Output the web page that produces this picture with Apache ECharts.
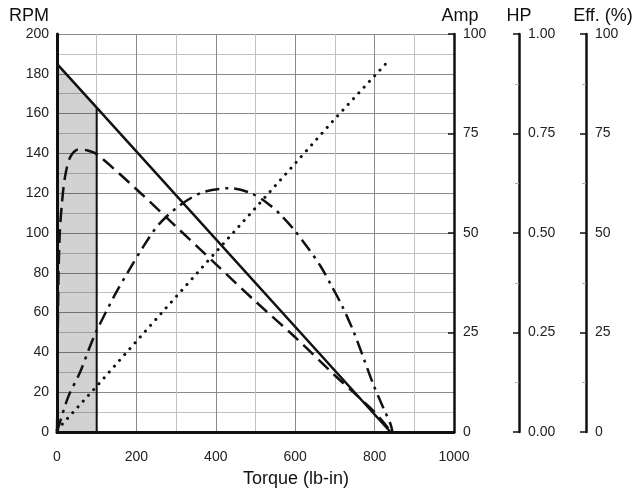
<!DOCTYPE html>
<html>
<head>
<meta charset="utf-8">
<script src="https://cdn.jsdelivr.net/npm/echarts@6/dist/echarts.min.js"></script>
<style>
html,body{margin:0;padding:0;background:#fff;}
#chart{width:637px;height:497px;}
</style>
</head>
<body>
<div id="chart"></div>
<script>
// ---- data ----
// Speed (RPM) vs torque (lb-in)
const speedTorque = [0, 100, 840];
const speedRPM    = [185, 163, 0];

// Shaded region (continuous duty zone) upper edge
const shadeTorque = [0, 100];
const shadeRPM    = [185, 163];

// Right border of shaded region
const borderTorque = [100, 100];
const borderRPM    = [0, 163];

// Current (Amp) - dotted
const ampTorque = [0, 100, 200, 300, 400, 500, 600, 700, 840];
const ampValues = [0.5, 11.5, 22.8, 34, 45.2, 56.3, 67.5, 78.7, 93.8];

// Power (HP) - dash-dot
const hpTorque = [0, 28, 58, 83, 100, 146, 179, 217, 255, 310, 368, 436, 489, 530, 564, 597, 635, 664, 690, 719, 748, 773, 798, 823, 840, 845];
const hpValues = [0, 0.0875, 0.15, 0.215, 0.255, 0.345, 0.4025, 0.465, 0.52, 0.57, 0.6025, 0.6125, 0.60, 0.575, 0.545, 0.5085, 0.4585, 0.4165, 0.37, 0.315, 0.25, 0.1835, 0.1165, 0.0585, 0.02, 0];

// Efficiency (%) - dashed
const effTorque = [0, 1, 2, 4, 7, 12, 20, 33, 53, 75, 100, 200, 300, 400, 500, 600, 700, 765, 800, 838];
const effValues = [0, 10, 25, 40, 50, 57, 64, 69, 71, 70.8, 69.8, 61, 51.6, 42.2, 32.8, 23.8, 14.2, 8.3, 5, 0.5];

// Axis tick settings
const xTicks   = {min: 0, max: 1000, interval: 200};
const rpmTicks = {min: 0, max: 200, interval: 20};
const ampTicks = {min: 0, max: 100, interval: 25};
const hpTicks  = {min: 0, max: 1, interval: 0.25};
const effTicks = {min: 0, max: 100, interval: 25};

const pairs = (xs, ys) => xs.map((x, i) => [x, ys[i]]);

const FONT = 'Liberation Sans, Arial, sans-serif';
const labelStyle = {color: '#222', fontSize: 14, fontFamily: FONT};
const nameStyleBase = {color: '#111', fontSize: 18, fontFamily: FONT};

const rightAxis = (ticks, offset, name, namePad, fmt, minor) => ({
  type: 'value', position: 'right', offset: offset,
  min: ticks.min, max: ticks.max, interval: ticks.interval,
  name: name, nameLocation: 'end', nameGap: 9,
  nameTextStyle: Object.assign({}, nameStyleBase, {align: 'center', padding: namePad}),
  axisLine: {show: true, lineStyle: {color: '#111', width: 2.5}},
  axisTick: {show: true, inside: true, length: 6, lineStyle: {color: '#111', width: 1.5}},
  minorTick: {show: minor, splitNumber: 2, length: 4, lineStyle: {color: '#aaa', width: 1}},
  axisLabel: Object.assign({}, labelStyle, {margin: 9, formatter: fmt}),
  splitLine: {show: false}
});

const chart = echarts.init(document.getElementById('chart'), null, {renderer: 'canvas'});
chart.setOption({
  animation: false,
  backgroundColor: '#fff',
  grid: {left: 57, right: 183, top: 34, bottom: 65, containLabel: false, outerBoundsMode: 'none'},
  xAxis: {
    type: 'value', min: xTicks.min, max: xTicks.max, interval: xTicks.interval,
    name: 'Torque (lb-in)', nameLocation: 'middle', nameGap: 38,
    nameTextStyle: Object.assign({}, nameStyleBase, {padding: [0, 0, 0, 81]}),
    axisLine: {show: true, lineStyle: {color: '#111', width: 3}},
    axisTick: {show: false},
    axisLabel: Object.assign({}, labelStyle, {margin: 18, formatter: v => String(v)}),
    splitLine: {show: true, lineStyle: {color: '#8a8a8a', width: 1}},
    minorTick: {show: false, splitNumber: 2},
    minorSplitLine: {show: true, lineStyle: {color: '#c2c2c2', width: 1}}
  },
  yAxis: [
    {
      type: 'value', position: 'left',
      min: rpmTicks.min, max: rpmTicks.max, interval: rpmTicks.interval,
      name: 'RPM', nameLocation: 'end', nameGap: 9,
      nameTextStyle: Object.assign({}, nameStyleBase, {align: 'right', padding: [0, 8, 0, 0]}),
      axisLine: {show: true, lineStyle: {color: '#111', width: 3}},
      axisTick: {show: false},
      axisLabel: Object.assign({}, labelStyle, {margin: 8}),
      splitLine: {show: true, lineStyle: {color: '#8a8a8a', width: 1}},
      minorTick: {show: false, splitNumber: 2},
      minorSplitLine: {show: true, lineStyle: {color: '#c2c2c2', width: 1}}
    },
    rightAxis(ampTicks, 0, 'Amp', [0, 0, 0, 12], v => String(v), false),
    rightAxis(hpTicks, 65, 'HP', [0, 0, 0, 0], v => v.toFixed(2), true),
    rightAxis(effTicks, 132, 'Eff. (%)', [0, 0, 0, 34], v => String(v), true)
  ],
  series: [
    {
      name: 'shade', type: 'line', yAxisIndex: 0, data: pairs(shadeTorque, shadeRPM),
      showSymbol: false, lineStyle: {width: 0}, areaStyle: {color: 'rgba(0,0,0,0.25)'}, z: 1
    },
    {
      name: 'border', type: 'line', yAxisIndex: 0, data: pairs(borderTorque, borderRPM),
      showSymbol: false, lineStyle: {color: '#111', width: 2}, z: 2
    },
    {
      name: 'Speed', type: 'line', yAxisIndex: 0, data: pairs(speedTorque, speedRPM),
      showSymbol: false, lineStyle: {color: '#111', width: 2.5}, z: 5
    },
    {
      name: 'Efficiency', type: 'line', yAxisIndex: 3, data: pairs(effTorque, effValues),
      showSymbol: false, smooth: 0.3,
      lineStyle: {color: '#111', width: 2.5, type: [14, 7]}, z: 4
    },
    {
      name: 'Power', type: 'line', yAxisIndex: 2, data: pairs(hpTorque, hpValues),
      showSymbol: false, smooth: 0.3,
      lineStyle: {color: '#111', width: 2.5, type: [14, 6, 3, 6]}, z: 4
    },
    {
      name: 'Current', type: 'line', yAxisIndex: 1, data: pairs(ampTorque, ampValues),
      showSymbol: false,
      lineStyle: {color: '#111', width: 3, type: [0.1, 7.7], cap: 'round'}, z: 4
    }
  ]
});
</script>
</body>
</html>
